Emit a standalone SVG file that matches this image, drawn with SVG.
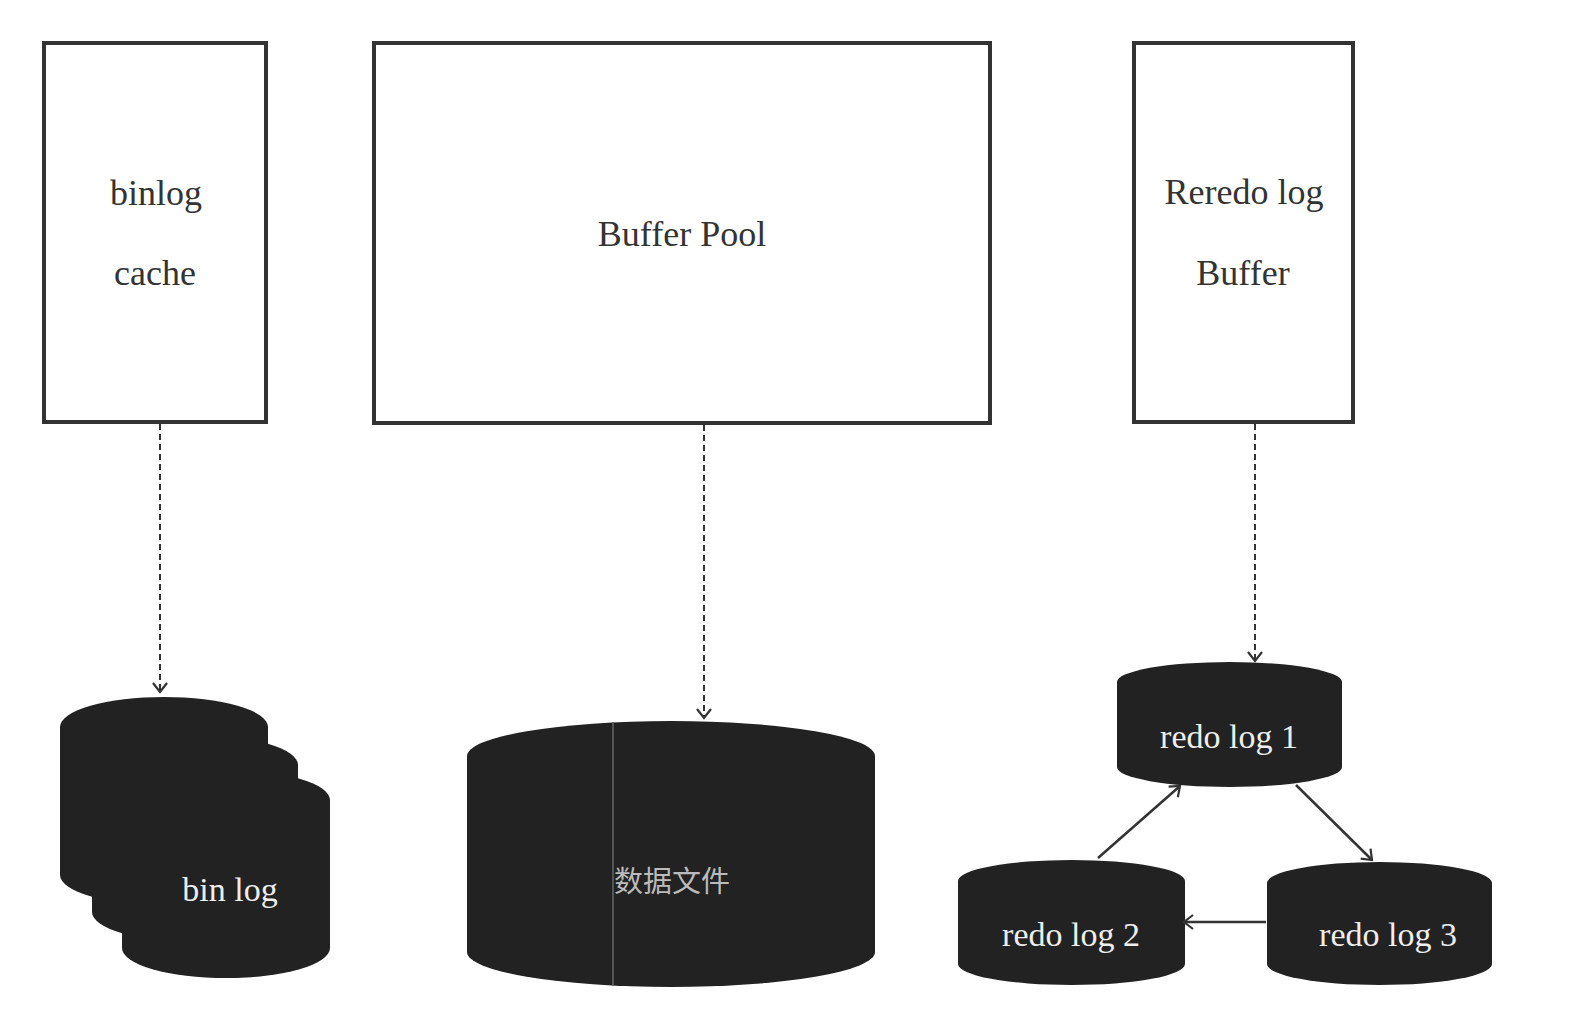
<svg xmlns="http://www.w3.org/2000/svg" width="1574" height="1020" viewBox="0 0 1574 1020">
<defs>
<marker id="open" markerUnits="userSpaceOnUse" markerWidth="24" markerHeight="24" viewBox="-12 -12 24 24" refX="0" refY="0" orient="auto">
<path d="M-9,-7 L0,0 L-9,7" fill="none" stroke="#333" stroke-width="2.2"/>
</marker>
</defs>
<style>
.box{fill:#fff;stroke:#333;stroke-width:4}
.btxt{font-family:"Liberation Serif","Times New Roman",serif;font-size:36px;fill:#333;text-anchor:middle}
.cyl{fill:#222}
.ctxt{font-family:"Liberation Serif","Times New Roman",serif;font-size:34px;fill:#eee;text-anchor:middle}
.dash{stroke:#333;stroke-width:2;stroke-dasharray:6 4;fill:none}
.solid{stroke:#333;stroke-width:2.5;fill:none}
</style>
<rect width="1574" height="1020" fill="#fff"/>
<g id="binlog-cache">
<rect class="box" x="44" y="43" width="222" height="379"/>
<text class="btxt" x="156" y="205">binlog</text>
<text class="btxt" x="155" y="285">cache</text>
</g>
<g id="buffer-pool">
<rect class="box" x="374" y="43" width="616" height="380"/>
<text class="btxt" x="682" y="246">Buffer Pool</text>
</g>
<g id="redo-log-buffer">
<rect class="box" x="1134" y="43" width="219" height="379"/>
<text class="btxt" x="1244" y="204">Reredo log</text>
<text class="btxt" x="1243" y="285">Buffer</text>
</g>
<g id="bin-log">
<path class="cyl" d="M60,727 a104,30 0 0 1 208,0 v148 a104,30 0 0 1 -208,0 z"/>
<path class="cyl" d="M92,765 a103,30 0 0 1 206,0 v147 a103,30 0 0 1 -206,0 z"/>
<path class="cyl" d="M122,800 a104,30 0 0 1 208,0 v148 a104,30 0 0 1 -208,0 z"/>
<text class="ctxt" x="230" y="901">bin log</text>
</g>
<g id="data-file">
<path class="cyl" d="M467,756 a204,35 0 0 1 408,0 v196 a204,35 0 0 1 -408,0 z"/>
<line x1="613" y1="722" x2="613" y2="986" stroke="#666" stroke-width="1.5"/>
<text x="672" y="892" font-family="'Noto Sans CJK SC',sans-serif" font-size="29" fill="#bbb" text-anchor="middle">数据文件</text>
</g>
<g id="redo-log-1">
<path class="cyl" d="M1117,682 a112.5,20 0 0 1 225,0 v85 a112.5,20 0 0 1 -225,0 z"/>
<text class="ctxt" x="1229" y="748">redo log 1</text>
</g>
<g id="redo-log-2">
<path class="cyl" d="M958,881 a113.5,21 0 0 1 227,0 v83 a113.5,21 0 0 1 -227,0 z"/>
<text class="ctxt" x="1071" y="946">redo log 2</text>
</g>
<g id="redo-log-3">
<path class="cyl" d="M1267,883 a112.5,21 0 0 1 225,0 v81 a112.5,21 0 0 1 -225,0 z"/>
<text class="ctxt" x="1388" y="946">redo log 3</text>
</g>
<g id="connectors">
<line class="dash" x1="160" y1="424" x2="160" y2="692" marker-end="url(#open)"/>
<line class="dash" x1="704" y1="425" x2="704" y2="718" marker-end="url(#open)"/>
<line class="dash" x1="1255" y1="424" x2="1255" y2="661" marker-end="url(#open)"/>
<line class="solid" x1="1098" y1="858" x2="1180" y2="786" marker-end="url(#open)"/>
<line class="solid" x1="1296" y1="785" x2="1372" y2="860" marker-end="url(#open)"/>
<line class="solid" x1="1266" y1="922" x2="1184" y2="922" marker-end="url(#open)"/>
</g>
</svg>
